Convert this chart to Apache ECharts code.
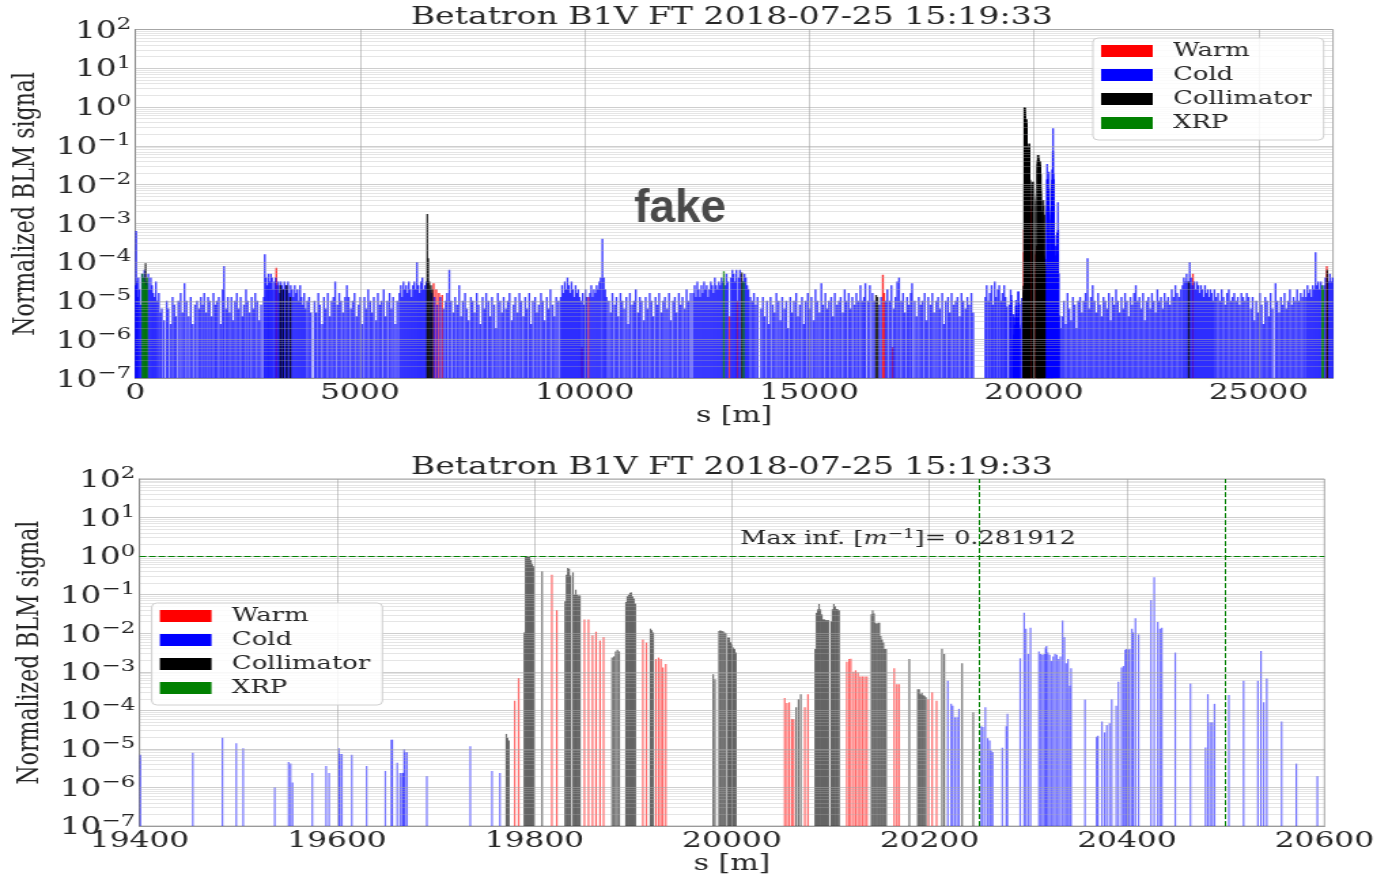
<!DOCTYPE html>
<html>
<head>
<meta charset="utf-8">
<title>Betatron B1V FT loss map</title>
<script src="https://cdn.jsdelivr.net/npm/echarts@6/dist/echarts.min.js"></script>
<style>
	html, body { margin: 0; padding: 0; background: #fff; overflow: hidden; }
	/* the figure is laid out 1024 wide and stretched to 1392, like the source picture */
	#chart { width: 1024px; height: 876px; transform: scaleX(1.359375); transform-origin: 0 0; }
</style>
</head>
<body>
<div id="chart"></div>
<script>
var STRETCH = 1392 / 1024;
var SERIF = '"DejaVu Serif", serif';
var INK = "#262626";
var TITLE = "Betatron B1V FT 2018-07-25 15:19:33";
var LEGEND = [ "Warm", "Cold", "Collimator", "XRP" ];
var COLORS = { Warm : "#ff0000", Cold : "#0000ff", Collimator : "#000000", XRP : "#008000" };

var RING = 26659;
var Y_MIN = 1e-7, Y_MAX = 1e2;
var decades = [ -7, -6, -5, -4, -3, -2, -1, 0, 1, 2 ];
var ringTicks = [ 0, 5000, 10000, 15000, 20000, 25000 ];
var zoomTicks = [ 19400, 19600, 19800, 20000, 20200, 20400, 20600 ];
var maxInfluence = 0.281912;
var thresholdLevel = 1;
var zoomMarks = [ 20250, 20500 ];

// each entry: [s in m, log10 of the normalized BLM signal]
// whole ring, outside the IR7 zoom window
var coldArc = [
	[8,-4.6],[20,-3.2],[35,-4.5],[52,-4.9],[70,-4.4],[95,-4.7],[118,-5.1],[150,-4.3],[178,-4.4],[205,-4.2],[232,-4.5],[260,-4.5],[290,-4.3],[318,-4.7],[345,-4.4],[372,-4.6],[400,-4.8],[430,-4.9],[460,-4.5],[492,-5.0],[525,-4.8],[560,-5.3],[590,-5.2],
	[640,-5.5],[700,-5.0],[735,-5.2],[790,-5.6],[830,-4.9],[870,-5.1],[905,-5.4],[960,-5.0],[1010,-4.8],[1050,-5.3],[1095,-4.55],[1140,-5.0],[1190,-5.4],[1235,-4.9],[1280,-5.6],[1330,-5.1],[1375,-5.0],
	[1420,-5.2],[1460,-4.9],[1500,-5.1],[1535,-4.8],[1580,-5.3],[1620,-4.9],[1655,-5.0],[1700,-5.4],[1740,-4.8],[1780,-5.1],[1815,-5.0],[1860,-4.9],[1900,-5.6],[1945,-4.7],[1975,-4.1],[2020,-5.2],[2060,-4.9],[2100,-5.3],[2140,-4.9],[2180,-5.5],[2220,-5.0],[2260,-4.8],[2300,-5.2],[2345,-4.9],[2385,-5.4],[2420,-5.1],[2465,-4.7],[2500,-5.0],[2545,-5.3],[2590,-4.9],[2630,-5.2],[2670,-4.8],[2715,-5.0],[2760,-5.5],[2800,-5.1],
	[2860,-4.9],[2883,-3.8],[2910,-4.4],[2940,-4.6],[2965,-4.3],[2990,-4.5],[3020,-4.3],[3045,-4.4],[3070,-4.7],[3100,-4.5],[3125,-4.4],[3160,-4.6],[3185,-4.5],[3210,-4.8],[3240,-4.5],[3265,-4.6],[3290,-4.7],[3320,-4.5],[3350,-4.6],[3375,-4.7],[3400,-4.5],[3430,-4.8],[3460,-4.6],[3490,-4.7],[3520,-4.9],[3550,-4.6],[3580,-4.8],[3610,-4.7],[3640,-5.0],[3670,-4.6],[3700,-4.9],[3730,-5.1],[3760,-4.8],[3790,-5.2],[3830,-5.0],[3870,-4.9],[3910,-5.3],
	[3990,-5.0],[4030,-5.3],[4075,-4.8],[4110,-5.1],[4160,-5.6],[4200,-4.9],[4240,-5.2],[4285,-4.8],[4330,-5.4],[4370,-5.0],[4410,-4.9],[4450,-4.5],[4500,-5.1],[4540,-4.8],[4580,-5.0],[4625,-5.3],[4670,-4.9],[4710,-4.6],[4750,-4.9],[4800,-5.2],[4840,-5.0],[4880,-4.8],[4925,-5.4],[4970,-5.1],[5010,-4.9],[5050,-5.6],[5100,-4.9],[5140,-5.2],[5185,-4.7],[5230,-5.0],[5270,-5.3],[5310,-4.9],[5360,-5.5],[5400,-4.8],[5440,-5.1],[5480,-5.0],[5530,-4.7],[5570,-5.4],[5610,-5.0],[5660,-4.8],[5700,-5.2],[5740,-4.9],[5790,-5.6],[5830,-5.0],
	[5880,-4.8],[5910,-4.6],[5940,-4.9],[5970,-4.5],[6000,-4.7],[6030,-4.6],[6060,-4.8],[6090,-4.5],[6120,-4.7],[6150,-4.9],[6180,-4.6],[6210,-4.5],[6240,-4.7],[6270,-4.0],[6300,-4.6],[6330,-4.8],[6360,-4.5],[6390,-4.4],[6420,-4.7],[6450,-4.6],[6480,-4.5],[6560,-4.7],[6600,-4.8],[6660,-4.9],[6720,-5.1],[6790,-4.9],[6860,-5.2],[6910,-5.0],[6940,-4.8],
	[6990,-4.2],[7030,-5.0],[7080,-5.3],[7120,-4.9],[7165,-5.1],[7210,-4.6],[7250,-5.4],[7290,-5.0],[7340,-4.8],[7380,-5.2],[7420,-5.5],[7470,-4.9],[7510,-5.0],[7550,-5.3],[7600,-4.8],[7640,-5.1],[7680,-5.6],[7730,-4.9],[7770,-5.2],[7810,-4.8],[7860,-5.0],[7900,-5.4],[7940,-4.9],[7990,-5.1],[8030,-5.7],[8070,-4.8],[8120,-5.0],[8160,-5.3],[8200,-4.9],[8250,-5.2],[8290,-5.0],[8330,-4.8],[8380,-5.5],[8420,-5.1],[8460,-4.9],[8510,-5.3],[8550,-4.8],[8590,-5.0],[8640,-5.4],[8680,-4.9],[8720,-5.2],[8770,-4.8],[8810,-5.6],[8850,-5.0],[8900,-4.9],[8940,-5.3],[8980,-5.1],[9030,-4.8],[9070,-5.0],[9110,-5.5],[9160,-4.9],[9200,-5.2],[9240,-4.7],[9290,-5.1],[9330,-5.4],[9370,-4.9],[9420,-5.0],
	[9470,-4.9],[9500,-4.6],[9530,-4.8],[9560,-4.5],[9590,-4.7],[9620,-4.4],[9650,-4.6],[9680,-4.8],[9710,-4.5],[9740,-4.7],[9770,-4.9],[9800,-4.6],[9830,-4.8],[9860,-4.7],[9890,-4.9],[9920,-5.0],[9960,-4.8],[9990,-5.1],[10020,-4.7],[10050,-4.9],[10120,-4.8],[10150,-4.6],[10180,-4.9],[10210,-4.7],[10240,-4.8],[10270,-4.6],[10300,-4.7],[10330,-4.5],[10360,-4.4],[10397,-3.4],[10430,-4.4],[10460,-4.7],[10490,-4.9],
	[10540,-5.0],[10580,-5.3],[10620,-4.8],[10670,-5.1],[10710,-4.9],[10750,-5.4],[10800,-4.8],[10840,-5.0],[10880,-5.2],[10930,-4.9],[10970,-5.6],[11010,-4.8],[11060,-5.1],[11100,-5.0],[11140,-4.7],[11190,-5.3],[11230,-4.9],[11270,-5.0],[11320,-5.5],[11360,-4.9],[11400,-5.2],[11450,-4.8],[11490,-5.0],[11530,-5.4],[11580,-4.9],[11620,-5.1],[11660,-4.8],[11710,-5.3],[11750,-5.0],[11790,-4.9],[11840,-5.2],[11880,-4.8],[11920,-5.5],[11970,-5.0],[12010,-4.9],[12050,-5.3],[12100,-4.8],[12140,-5.1],[12180,-4.9],[12230,-5.2],[12270,-4.7],[12310,-5.0],[12360,-4.8],
	[12420,-4.8],[12450,-4.6],[12480,-4.9],[12510,-4.5],[12540,-4.7],[12570,-4.9],[12600,-4.6],[12630,-4.8],[12660,-4.5],[12690,-4.7],[12720,-4.6],[12750,-4.9],[12780,-4.7],[12810,-4.5],[12840,-4.6],[12870,-4.8],[12900,-4.4],[12930,-4.6],[12960,-4.7],[12990,-4.5],[13020,-4.6],[13050,-4.4],[13080,-4.5],[13130,-4.6],[13160,-4.3],[13190,-4.5],[13260,-4.4],[13290,-4.2],[13320,-4.3],[13350,-4.5],[13380,-4.2],[13430,-4.4],[13460,-4.2],[13530,-4.5],[13560,-4.3],[13590,-4.4],[13620,-4.6],[13650,-4.7],[13690,-4.9],[13730,-5.0],[13770,-4.8],[13810,-5.1],[13850,-4.9],
	[13930,-5.2],[13970,-4.9],[14010,-5.4],[14060,-5.0],[14100,-5.6],[14140,-4.9],[14190,-5.1],[14230,-5.3],[14270,-4.8],[14320,-5.0],[14360,-5.5],[14400,-4.9],[14450,-5.2],[14490,-5.0],[14530,-5.7],[14580,-4.9],[14620,-5.3],[14660,-5.0],[14710,-4.8],[14750,-5.4],[14790,-5.1],[14840,-4.9],[14880,-5.6],[14920,-5.0],[14970,-4.8],[15010,-5.2],[15050,-4.9],[15100,-5.5],[15140,-4.7],[15180,-5.0],[15230,-5.3],[15270,-4.55],[15310,-5.1],[15360,-4.8],[15400,-5.2],[15440,-5.0],[15490,-4.9],[15530,-5.4],[15570,-4.8],[15620,-5.1],[15660,-5.0],[15700,-4.9],[15750,-5.3],[15790,-4.7],[15830,-5.0],[15880,-4.8],[15920,-5.2],[15960,-4.9],[16010,-5.1],[16050,-4.8],[16090,-5.0],[16140,-4.6],[16180,-5.0],[16220,-4.9],[16250,-4.55],[16310,-5.0],[16350,-4.6],
	[16410,-4.8],[16450,-5.0],[16560,-5.1],[16600,-4.9],[16700,-5.0],[16740,-4.7],
	[16790,-5.0],[16830,-4.6],[16880,-5.2],[16920,-4.9],[16960,-4.5],[17000,-4.4],[17050,-5.0],[17090,-4.8],[17130,-5.3],[17180,-4.9],[17220,-5.1],[17260,-4.8],[17290,-4.55],[17350,-5.0],[17390,-5.4],[17440,-4.9],[17480,-5.1],[17520,-5.0],[17570,-4.8],[17610,-5.5],[17650,-4.9],[17700,-5.1],[17740,-4.8],[17780,-5.3],[17830,-5.0],[17870,-4.9],[17910,-5.2],[17960,-4.8],[18000,-5.6],[18040,-5.0],[18090,-4.9],[18130,-5.3],[18170,-4.8],[18220,-5.1],[18260,-5.0],[18300,-4.9],[18350,-5.4],[18390,-4.8],[18430,-5.0],[18480,-5.2],[18520,-4.9],[18560,-5.1],[18610,-4.8],[18650,-5.3],
	[18920,-4.9],[18950,-4.6],[18990,-5.0],[19020,-4.8],[19060,-4.6],[19090,-5.1],[19130,-4.5],[19160,-4.9],[19200,-4.7],[19230,-4.6],[19270,-5.0],[19300,-4.8],[19340,-4.6],[19370,-4.9],
	[20630,-5.4],[20670,-5.0],[20710,-5.6],[20750,-4.8],[20790,-5.2],[20830,-5.5],[20870,-4.9],[20910,-5.1],[20950,-5.7],[20990,-5.0],[21030,-4.9],[21070,-5.3],[21110,-5.0],[21150,-4.8],[21195,-3.9],[21230,-5.2],[21270,-4.9],[21310,-4.6],[21350,-5.0],[21390,-5.3],[21430,-4.8],[21470,-5.1],[21510,-5.4],[21550,-4.9],[21590,-5.0],[21630,-5.2],[21670,-4.8],[21710,-5.5],[21750,-4.9],[21790,-5.1],[21830,-4.7],[21870,-5.0],[21910,-5.3],[21950,-4.9],[21990,-5.2],[22030,-4.8],[22070,-5.0],[22110,-5.4],[22150,-4.9],[22190,-5.1],[22230,-4.8],[22270,-4.6],[22310,-5.0],[22350,-4.9],[22390,-5.2],[22430,-4.8],[22470,-5.5],[22510,-5.0],[22550,-4.9],[22590,-5.2],[22630,-4.8],[22670,-5.0],[22710,-5.3],[22750,-4.7],[22790,-5.0],[22830,-4.9],[22870,-5.2],[22910,-4.8],[22950,-5.0],[22990,-4.9],[23030,-5.1],[23070,-4.7],[23110,-4.9],[23150,-4.6],[23190,-4.8],[23230,-4.9],[23270,-4.7],
	[23310,-4.6],[23340,-4.4],[23370,-4.5],[23400,-4.3],[23430,-4.5],[23470,-4.0],[23500,-4.4],[23530,-4.6],[23570,-4.5],[23600,-4.7],[23630,-4.5],[23660,-4.6],[23690,-4.8],[23720,-4.6],[23750,-4.7],[23780,-4.9],[23810,-4.6],[23840,-4.8],[23870,-4.7],[23900,-4.9],[23930,-4.7],[23960,-4.8],[23990,-5.0],[24020,-4.7],[24060,-4.9],[24100,-4.8],[24140,-5.0],[24180,-4.7],[24220,-4.9],[24260,-5.1],[24300,-4.8],[24340,-4.7],[24380,-5.0],[24420,-4.9],[24460,-4.8],[24500,-5.0],[24540,-4.9],[24580,-5.1],[24620,-4.8],[24660,-4.9],[24700,-5.0],[24740,-4.8],[24780,-4.9],
	[24830,-5.2],[24870,-4.9],[24910,-5.5],[24950,-5.0],[24990,-5.3],[25030,-4.8],[25070,-5.1],[25110,-5.6],[25150,-4.9],[25190,-5.0],[25230,-5.4],[25270,-4.8],[25310,-5.2],[25380,-4.55],[25420,-5.0],[25460,-5.3],[25500,-4.9],[25540,-5.1],[25580,-4.8],[25620,-5.2],[25660,-5.0],[25700,-4.7],[25740,-5.1],[25780,-4.9],[25820,-5.0],[25860,-4.7],[25900,-5.0],[25940,-4.8],[25980,-4.9],[26020,-4.7],[26060,-4.9],[26090,-4.6],[26120,-4.8],[26150,-4.7],[26180,-4.9],[26210,-4.6],[26240,-4.7],[26270,-3.75],[26300,-4.6],[26330,-4.5],[26360,-4.7],[26390,-4.5],[26460,-4.6],[26490,-4.4],[26560,-4.5],[26590,-4.3],[26620,-4.5],[26650,-4.4]
];
var warmArc = [
	[3140,-4.15],[6640,-4.55],[6700,-4.7],[6760,-4.8],[6830,-4.85],[9940,-6.2],[10090,-4.9],[13230,-5.4],[13400,-5.0],
	[16640,-4.33],[16670,-4.8],[16860,-6.2],[23540,-4.3],[26520,-4.1]
];
var collimatorArc = [
	[230,-4.03],[3230,-4.6],[3290,-4.7],[3370,-4.6],[3450,-4.9],[6500,-2.76],[6520,-3.9],[6545,-4.5],[6580,-4.6],[6610,-4.7],
	[13500,-4.27],[16490,-4.85],[16520,-4.9],[23450,-4.5],[26530,-4.2]
];
var xrpArc = [
	[160,-4.3],[185,-4.4],[210,-4.5],[240,-4.6],[262,-4.4],[13100,-4.24],[13540,-4.5],[26420,-4.6],[26440,-4.7]
];

// IR7 window 19400 - 20600 m, shown in both panels
var coldIR7 = [
	[19401,-5.15],[19454,-5.1],[19484,-4.71],[19498,-4.85],[19505,-4.98],[19537,-5.99],[19551,-5.34],[19553,-5.38],[19555,-5.87],[19575,-5.62],[19589,-5.44],[19592,-5.62],[19602,-4.98],[19603,-5.13],[19605,-5.13],[19615,-5.15],[19630,-5.44],[19649,-5.57],[19655,-4.76],[19656,-4.76],[19661,-5.36],[19664,-5.62],[19666,-5.62],[19667,-5.62],[19668,-5.01],[19669,-5.08],[19671,-5.08],[19691,-5.7],[19735,-4.93],[19757,-5.57],[19765,-5.62],
	[20218.6,-3.23],[20222,-3.83],[20223.5,-3.88],[20225.8,-4.18],[20228,-4.18],[20229.9,-3.96],
	[20252.5,-4.41],[20254,-4.43],[20256.6,-3.92],[20259,-4.72],[20261,-4.78],[20262.4,-5.04],[20264,-5.08],[20273.8,-4.97],[20277.8,-4.41],[20279,-4.09],
	[20291.9,-2.65],[20295.9,-1.47],[20297.7,-1.88],[20300,-2.54],[20302.3,-1.86],[20310.9,-2.47],[20312.7,-2.54],[20314.5,-2.56],[20316.3,-2.54],[20317.6,-2.37],[20318.5,-2.33],[20319.9,-2.5],[20321.7,-2.56],[20323.5,-2.72],[20325.3,-2.6],[20327.1,-2.53],[20328.9,-2.56],[20330.8,-2.67],[20332.6,-2.6],[20334.8,-1.67],[20336.7,-2.1],[20338.5,-2.78],[20340.3,-2.67],[20342.1,-3.36],[20343.4,-2.91],
	[20357.5,-3.72],[20369.2,-4.68],[20370.6,-4.66],[20374.7,-4.29],[20377.4,-4.57],[20379.6,-4.38],[20382.4,-4.33],[20384.6,-3.71],[20389.1,-3.88],[20391.4,-3.26],[20394.6,-2.89],[20396.4,-2.85],[20398.2,-2.43],[20399.5,-2.41],[20401.4,-2.43],[20402.7,-2.41],[20405,-1.88],[20406.3,-1.98],[20408.6,-1.61],[20411.8,-2.03],
	[20424.4,-1.14],[20427.6,-0.55],[20431.2,-1.71],[20433.5,-1.88],[20435.3,-1.86],
	[20448.9,-2.5],[20464.3,-3.3],[20479.6,-4.96],[20481.9,-3.58],[20484.2,-4.31],[20486.4,-4.31],[20488.7,-3.83],
	[20503.2,-3.6],[20518.1,-3.23],[20532.6,-3.23],[20535.7,-2.46],[20538.5,-3.79],[20541.6,-3.17],[20556.6,-4.29],[20571.5,-5.38],[20592.8,-5.7]
];
var warmIR7 = [
	[19780,-3.75],[19784,-3.16],[19817.6,-0.48],[19822.6,-1.4],[19850.6,-1.64],[19854.7,-1.64],[19858.8,-2.05],[19862.4,-1.96],[19866.4,-2.19],[19870,-2.1],
	[19909.8,-2.16],[19913.4,-2.24],[19923,-2.67],[19925.7,-2.63],[19928,-2.67],[19930,-2.89],[19933,-2.8],
	[20053.4,-3.68],[20055.7,-3.81],[20058,-3.79],[20060.6,-4.22],[20062.4,-4.22],[20073.8,-3.92],[20077,-3.58],
	[20116.3,-2.74],[20118.6,-2.67],[20120.4,-2.66],[20123.1,-3.0],[20125.3,-2.96],[20127.6,-3.02],[20129.9,-3.12],[20132.1,-3.12],[20134.4,-3.12],[20136.7,-3.12],
	[20164.3,-2.91],[20167,-3.32],[20169.2,-3.32],[20199,-3.71],[20202.7,-3.53],[20207.2,-3.75]
];
var collimatorIR7 = [
	[19771.5,-4.61],[19772.8,-4.71],[19774.2,-4.78],
	[19789.6,-1.98],[19791,-0.01],[19792.3,0.0],[19793.7,-0.01],[19795,-0.02],[19796.4,-0.1],[19797.7,-0.2],[19799.1,-0.26],
	[19807.7,-0.39],
	[19831,-1.17],[19832.4,-0.48],[19833.7,-0.31],[19835.1,-0.33],[19836.4,-0.5],[19839,-0.42],[19840.5,-1.0],[19841.8,-0.87],[19843.2,-1.0],[19844.6,-1.02],[19846,-1.02],
	[19878.6,-2.63],[19880.4,-2.6],[19882.2,-2.47],[19884,-2.43],[19885.8,-2.47],
	[19892.7,-1.19],[19894,-1.04],[19895.4,-1.0],[19896.8,-0.95],[19898.1,-0.94],[19899.5,-1.04],[19900.8,-1.1],[19902.2,-1.23],
	[19917.5,-1.88],[19918.8,-1.92],[19920.2,-1.98],
	[19981,-3.06],[19982.8,-3.19],[19986.9,-1.94],[19988.2,-1.92],[19989.6,-1.94],[19991,-1.95],[19992.4,-1.98],[19993.7,-2.0],[19996,-2.11],[19997.3,-2.11],[19998.6,-2.23],[20000,-2.29],[20001.4,-2.37],[20002.7,-2.41],[20004.1,-2.5],
	[20065,-3.92],[20067.4,-3.71],[20069.7,-3.58],
	[20084.2,-2.41],[20085.5,-1.47],[20086.9,-1.38],[20088.2,-1.24],[20089.6,-1.38],[20091,-1.51],[20092.3,-1.64],[20093.7,-1.64],[20095,-1.66],[20096.4,-1.66],[20097.7,-1.66],[20100.5,-1.69],[20101.8,-1.38],[20103.2,-1.24],[20104.5,-1.3],[20105.9,-1.37],[20107.2,-1.38],[20108.6,-1.4],
	[20141.2,-1.51],[20142.5,-1.4],[20143.9,-1.49],[20145.2,-1.73],[20146.6,-1.75],[20148,-1.73],[20149.3,-1.73],[20150.7,-2.07],[20152,-2.16],[20153.4,-2.24],[20154.7,-2.41],[20156.1,-2.41],
	[20179.6,-2.67],
	[20188.2,-3.45],[20189.6,-3.45],[20190.9,-3.58],[20192.3,-3.54],[20193.6,-3.61],[20195,-3.62],[20196.4,-3.66],
	[20212.7,-2.4],[20215,-2.54],[20233,-2.78],[20244.3,-4.05]
];

var chart = echarts.init(document.getElementById("chart"));

function toPoints(list) {
	return list.map(function(p) {
		return [ p[0], Math.pow(10, p[1]) ];
	});
}

function barRenderer(color, width, alpha) {
	return function(params, api) {
		var top = api.coord([ api.value(0), api.value(1) ]);
		var base = api.coord([ api.value(0), Y_MIN ]);
		return {
			type : "line",
			shape : { x1 : top[0], y1 : top[1], x2 : base[0], y2 : base[1] },
			style : { stroke : color, lineWidth : width, opacity : alpha }
		};
	};
}

function barSeries(name, gridIndex, list, width, alpha) {
	return {
		type : "custom",
		name : name,
		xAxisIndex : gridIndex,
		yAxisIndex : gridIndex,
		data : toPoints(list),
		encode : { x : 0, y : 1 },
		renderItem : barRenderer(COLORS[name], width, alpha),
		itemStyle : { color : COLORS[name] },
		clip : true,
		silent : true,
		animation : false,
		z : 2
	};
}

// matplotlib draws its grid over the bars, so the grid is a markLine layer
function gridLines(xTicks) {
	var lines = [];
	decades.forEach(function(d, i) {
		lines.push({ yAxis : Math.pow(10, d), lineStyle : { color : "rgba(165,165,165,0.55)" } });
		if (i < decades.length - 1) {
			for (var m = 2; m <= 9; m++) {
				lines.push({ yAxis : m * Math.pow(10, d), lineStyle : { color : "rgba(175,175,175,0.32)" } });
			}
		}
	});
	xTicks.forEach(function(t) {
		lines.push({ xAxis : t, lineStyle : { color : "rgba(160,160,160,0.55)" } });
	});
	return lines;
}

function lineLayer(gridIndex, lines, z, lineStyle) {
	return {
		type : "line",
		xAxisIndex : gridIndex,
		yAxisIndex : gridIndex,
		data : [],
		silent : true,
		animation : false,
		markLine : {
			silent : true,
			z : z,
			precision : 20,
			animation : false,
			symbol : [ "none", "none" ],
			label : { show : false },
			emphasis : { disabled : true },
			lineStyle : lineStyle,
			data : lines
		}
	};
}

function powerLabel(v) {
	var e = Math.round(Math.log10(v));
	return "{b|10}{s|" + (e < 0 ? "\u2212" + (-e) : e) + "}";
}

function xAxisFor(gridIndex, min, max, interval) {
	return {
		type : "value",
		gridIndex : gridIndex,
		min : min,
		max : max,
		interval : interval,
		name : "s [m]",
		nameLocation : "middle",
		nameGap : 24,
		nameTextStyle : { fontFamily : SERIF, fontSize : 22, color : INK },
		axisLine : { show : true, onZero : false, lineStyle : { color : "#8c8c8c" } },
		axisTick : { show : false },
		splitLine : { show : false },
		axisLabel : {
			fontFamily : SERIF,
			fontSize : 23,
			color : INK,
			margin : 3,
			showMaxLabel : gridIndex === 1,
			formatter : function(v) {
				return String(v);
			}
		}
	};
}

function yAxisFor(gridIndex) {
	return {
		type : "log",
		logBase : 10,
		gridIndex : gridIndex,
		min : Y_MIN,
		max : Y_MAX,
		splitNumber : 9,
		name : "Normalized BLM signal",
		nameLocation : "middle",
		nameRotate : 90,
		nameGap : 68,
		nameTextStyle : { fontFamily : SERIF, fontSize : 22, color : INK },
		axisLine : { show : true, lineStyle : { color : "#8c8c8c" } },
		axisTick : { show : false },
		splitLine : { show : false },
		axisLabel : {
			margin : 3,
			formatter : powerLabel,
			rich : {
				b : { fontFamily : SERIF, fontSize : 24, color : INK, padding : [ 4, 0, 0, 0 ] },
				s : { fontFamily : SERIF, fontSize : 17, color : INK, padding : [ 0, 0, 10, 0 ] }
			}
		}
	};
}

function legendAt(left, top) {
	return {
		data : LEGEND,
		orient : "vertical",
		left : left,
		top : top,
		icon : "rect",
		itemWidth : 38,
		itemHeight : 12,
		itemGap : 0,
		padding : [ 1, 9, 5, 6 ],
		backgroundColor : "rgba(255,255,255,0.85)",
		borderColor : "#d0d0d0",
		borderWidth : 1,
		borderRadius : 4,
		selectedMode : false,
		textStyle : { fontFamily : SERIF, fontSize : 19, color : INK, lineHeight : 24, padding : [ 0, 0, 0, 10 ] }
	};
}

var series = [
	barSeries("Warm", 0, warmArc.concat(warmIR7), 1.4, 0.8),
	barSeries("Cold", 0, coldArc.concat(coldIR7), 1.4, 0.75),
	barSeries("Collimator", 0, collimatorArc.concat(collimatorIR7), 1.4, 0.8),
	barSeries("XRP", 0, xrpArc, 1.4, 0.8),
	barSeries("Warm", 1, warmIR7, 1.2, 0.6),
	barSeries("Cold", 1, coldIR7, 1.2, 0.55),
	barSeries("Collimator", 1, collimatorIR7, 1.2, 0.55),
	lineLayer(0, gridLines(ringTicks.slice(1)), 3, { width : 1, type : "solid" }),
	lineLayer(1, gridLines(zoomTicks.slice(1, -1)), 3, { width : 1, type : "solid" }),
	lineLayer(1, [ { yAxis : thresholdLevel } ].concat(zoomMarks.map(function(s) {
		return { xAxis : s };
	})), 5, { color : "#008000", width : 1, type : [ 5, 2 ] })
];

chart.setOption({
	backgroundColor : "#ffffff",
	animation : false,
	grid : [
		{ left : 96, top : 29.5, width : 884.6, height : 348.8, show : true, borderColor : "#a6a6a6", borderWidth : 1 },
		{ left : 102.6, top : 479, width : 871.7, height : 348.7, show : true, borderColor : "#a6a6a6", borderWidth : 1 }
	],
	xAxis : [ xAxisFor(0, 0, RING, 5000), xAxisFor(1, 19400, 20600, 200) ],
	yAxis : [ yAxisFor(0), yAxisFor(1) ],
	legend : [ legendAt(804, 38), legendAt(111.6, 603) ],
	series : series,
	graphic : [
		{ type : "text", x : 538.3, y : 18, silent : true,
			style : { text : TITLE, font : "24.3px " + SERIF, fill : INK, align : "center", verticalAlign : "middle" } },
		{ type : "text", x : 538.4, y : 468, silent : true,
			style : { text : TITLE, font : "24.3px " + SERIF, fill : INK, align : "center", verticalAlign : "middle" } },
		{ type : "text", x : 544.5, y : 539, silent : true, z : 10,
			style : {
				text : "{a|Max inf. [}{i|m}{s|\u22121}{a|]= " + maxInfluence + "}",
				fill : INK,
				verticalAlign : "middle",
				rich : {
					a : { fontFamily : SERIF, fontSize : 18.8, color : INK },
					i : { fontFamily : SERIF, fontSize : 18.8, fontStyle : "italic", color : INK },
					s : { fontFamily : SERIF, fontSize : 13.5, color : INK, padding : [ 0, 0, 9, 0 ] }
				}
			} },
		// the watermark sits on the final (stretched) picture, so undo the stretch
		{ type : "text", x : 500.3, y : 209, scaleX : 1 / STRETCH, silent : true, z : 10,
			style : { text : "fake", font : "bold 46px \"Liberation Sans\", Arial, sans-serif", fill : "#4a4a4a",
				align : "center", verticalAlign : "middle" } }
	]
});
</script>
</body>
</html>
